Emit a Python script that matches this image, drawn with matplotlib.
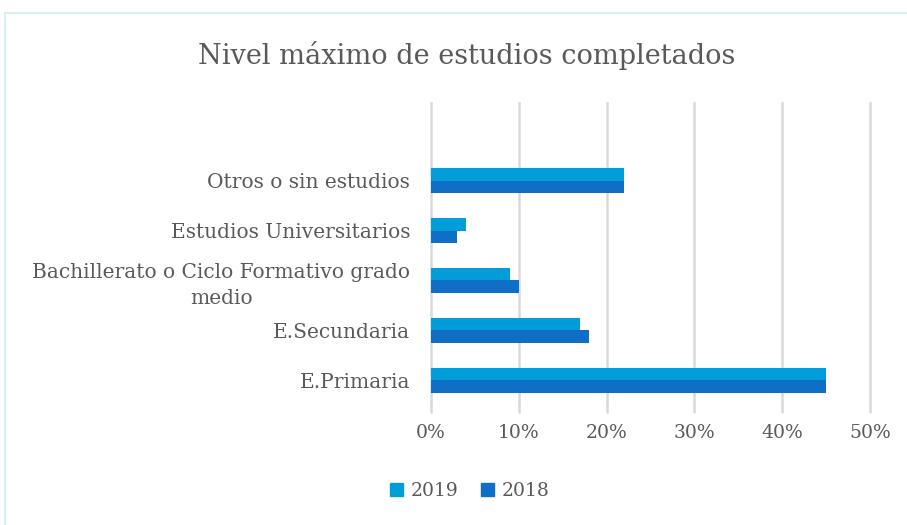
import numpy as np
import matplotlib
matplotlib.use("Agg")
import matplotlib.pyplot as plt
from matplotlib.patches import Rectangle, Patch

categories = ["E.Primaria", "E.Secundaria",
              "Bachillerato o Ciclo Formativo grado\nmedio",
              "Estudios Universitarios", "Otros o sin estudios"]
vals_2019 = [45, 17, 9, 4, 22]
vals_2018 = [45, 18, 10, 3, 22]
xticks = [0, 10, 20, 30, 40, 50]

c2019 = "#009DD9"
c2018 = "#0F6FC6"
txt = "#595959"
plt.rcParams['font.family'] = ['DejaVu Serif']

fig = plt.figure(figsize=(9.07, 5.25), dpi=100)
fig.patches.append(Rectangle((5 / 907, -0.05), 1.0, 1 - 13 / 525 + 0.05,
                             transform=fig.transFigure, fill=False,
                             edgecolor="#D5F0F7", linewidth=1.5))

ax = fig.add_axes([431 / 907, 1 - 405 / 525, (870 - 431) / 907, (405 - 103) / 525])
y = np.arange(len(categories))
h = 0.25
ax.barh(y + h / 2, vals_2019, height=h, color=c2019, label="2019")
ax.barh(y - h / 2, vals_2018, height=h, color=c2018, label="2018")

ax.set_xlim(0, 50)
ax.set_ylim(-0.5, 5.56)
ax.set_xticks(xticks)
ax.set_xticklabels([f"{v}%" for v in xticks], fontsize=13.5, color=txt)
ax.set_yticks(y)
ax.set_yticklabels(categories, fontsize=14.5, color=txt, multialignment="center",
                   linespacing=1.45)
ax.tick_params(axis="y", length=0, pad=15)
ax.tick_params(axis="x", length=6, width=1.8, color="#D9D9D9", pad=8)
ax.xaxis.grid(True, color="#D9D9D9", linewidth=1.8)
for gl in ax.get_xgridlines():
    gl.set_clip_on(False)
ax.set_axisbelow(True)
for s in ax.spines.values():
    s.set_visible(False)

fig.text(467 / 907, 1 - 55 / 525, "Nivel máximo de estudios completados",
         ha="center", va="center", fontsize=19.5, color=txt)

fig.legend(handles=[Patch(color=c2019, label="2019"), Patch(color=c2018, label="2018")],
           loc="center", bbox_to_anchor=(470 / 907, 1 - 491 / 525), ncol=2,
           frameon=False, fontsize=13.5, labelcolor=txt, handlelength=0.7,
           handleheight=0.7, handletextpad=0.4, columnspacing=1.2)

fig.savefig("out.png", dpi=100)
